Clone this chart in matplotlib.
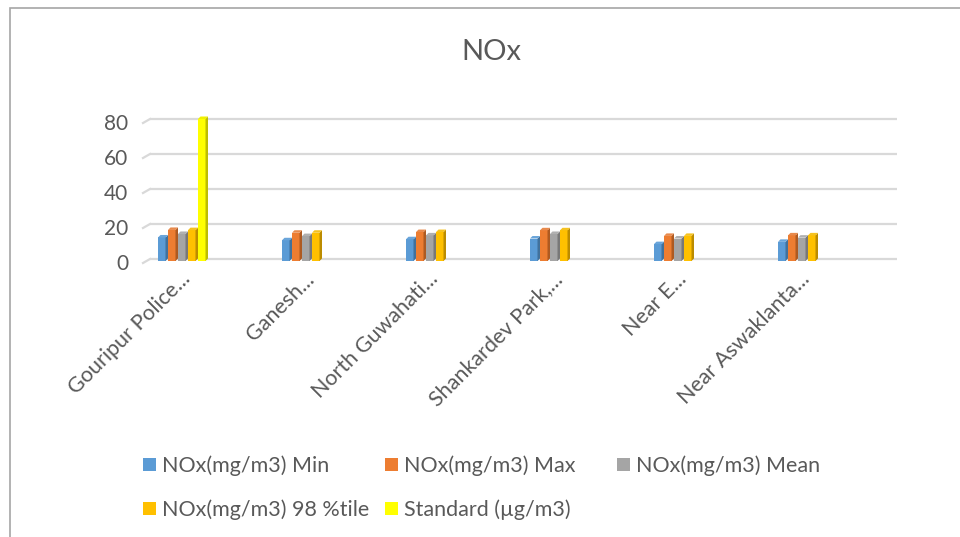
import matplotlib
matplotlib.use("Agg")
import matplotlib.pyplot as plt
import numpy as np
from matplotlib.patches import Polygon, Rectangle
from matplotlib.transforms import ScaledTranslation

plt.rcParams['font.family'] = ['Lato', 'DejaVu Sans']

stations = ["Gouripur Police...", "Ganesh...", "North Guwahati...",
            "Shankardev Park,...", "Near E...", "Near Aswaklanta..."]

nox_min = [12.3, 10.7, 11.3, 11.7, 8.5, 9.8]
nox_max = [16.6, 15.0, 15.4, 16.4, 13.2, 13.5]
nox_mean = [14.3, 13.1, 13.5, 14.3, 11.7, 12.2]
nox_98 = [16.5, 15.0, 15.4, 16.4, 13.2, 13.5]
standard = [80, None, None, None, None, None]

series_names = ["NOx(mg/m3) Min", "NOx(mg/m3) Max", "NOx(mg/m3) Mean",
                "NOx(mg/m3) 98 %tile", "Standard (\u00b5g/m3)"]
series_values = [nox_min, nox_max, nox_mean, nox_98, standard]
front_colors = ["#5B9BD5", "#ED7D31", "#A5A5A5", "#FFC000", "#FFFF00"]
side_colors = ["#41719C", "#AE5A21", "#787878", "#BC8C00", "#BDBD00"]
top_colors = ["#6AA5DA", "#E88A4C", "#B0B0B0", "#F5C220", "#F0F000"]

text_grey = "#595959"
W, H = 960, 537

fig = plt.figure(figsize=(W / 100, H / 100), dpi=100)
fig.patch.set_facecolor("white")

# chart frame
fig.patches.append(Rectangle((10 / W, -0.1), 1.2, (H - 8) / H + 0.1,
                             transform=fig.transFigure, fill=False,
                             edgecolor="#A6A6A6", lw=1.2))

ax_left, ax_right, ax_bottom, ax_top = 150, 897, 259, 119
ax = fig.add_axes([ax_left / W, 1 - ax_bottom / H,
                   (ax_right - ax_left) / W, (ax_bottom - ax_top) / H])

px_x = 124.0                       # pixels per category
px_y = (ax_bottom - ax_top) / 80   # pixels per unit
x0 = -33 / px_x
ax.set_xlim(x0, x0 + (ax_right - ax_left) / px_x)
ax.set_ylim(0, 80)

for s in ax.spines.values():
    s.set_visible(False)

# back-wall gridlines with a small slanted floor edge at the left
depth_x, depth_y = 7 / px_x, 4 / px_y
for v in range(0, 81, 20):
    ax.plot([x0, ax.get_xlim()[1]], [v, v], color="#D9D9D9", lw=1.6,
            zorder=0, clip_on=False, solid_capstyle="butt")
    ax.plot([x0 - depth_x, x0], [v - depth_y, v], color="#D9D9D9", lw=1.6,
            zorder=0, clip_on=False)

bar_w = 10 / px_x
dx, dy = 2.5 / px_x, 2.5 / px_y
n = len(series_values)
for k, (vals, fc, sc, tc) in enumerate(zip(series_values, front_colors,
                                           side_colors, top_colors)):
    for i, v in enumerate(vals):
        if v is None:
            continue
        left = i + (k - n / 2) * bar_w
        fw = bar_w - dx
        z = 2 + k * 0.01 + i
        base = -2 / px_y
        ax.bar(left, v - base, width=fw, align="edge", color=fc, zorder=z,
               clip_on=False, bottom=base)
        ax.add_patch(Polygon([(left + fw, base), (left + fw + dx, base + dy),
                              (left + fw + dx, v + dy), (left + fw, v)],
                             closed=True, facecolor=sc, edgecolor="none",
                             zorder=z, clip_on=False))
        ax.add_patch(Polygon([(left, v), (left + fw, v),
                              (left + fw + dx, v + dy), (left + dx, v + dy)],
                             closed=True, facecolor=tc, edgecolor="none",
                             zorder=z, clip_on=False))

ax.set_yticks(range(0, 81, 20))
ax.set_yticklabels([str(v) for v in range(0, 81, 20)])
ax.tick_params(axis="y", length=0, pad=15.5, labelsize=15, labelcolor=text_grey)
down = ScaledTranslation(0, -3 / 100, fig.dpi_scale_trans)
for lbl in ax.get_yticklabels():
    lbl.set_transform(lbl.get_transform() + down)

ax.set_xticks(np.arange(len(stations)) - 3 / px_x)
ax.set_xticklabels(stations, rotation=45, ha="right", va="top",
                   rotation_mode="anchor")
ax.tick_params(axis="x", length=0, pad=7, labelsize=15.5, labelcolor=text_grey)

fig.text(491 / W, 1 - 52 / H, "NOx", ha="center", va="center",
         fontsize=21, color=text_grey)

# legend entries laid out row by row
legend_pos = [(143, 464), (385, 464), (617, 464), (143, 508), (385, 508)]
for (lx, ly), name, c in zip(legend_pos, series_names, front_colors):
    fig.patches.append(Rectangle((lx / W, 1 - (ly + 6.5) / H), 13 / W, 13 / H,
                                 transform=fig.transFigure,
                                 facecolor=c, edgecolor="none"))
    fig.text((lx + 19) / W, 1 - ly / H, name, ha="left", va="center_baseline",
             fontsize=15.5, color=text_grey)

fig.savefig("out.png", dpi=100)
